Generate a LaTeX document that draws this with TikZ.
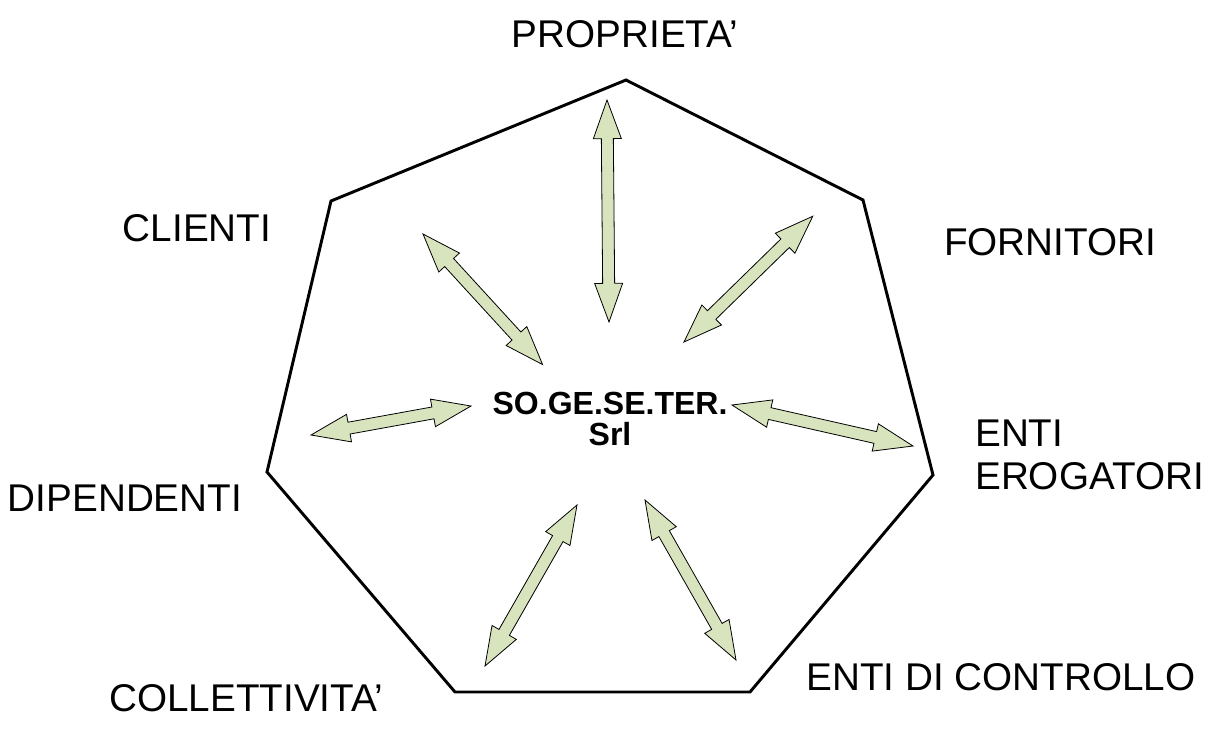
\documentclass[tikz,border=0pt]{standalone}
\usepackage{fontspec}
\setmainfont{Liberation Sans}
\usetikzlibrary{calc}
\definecolor{arrgreen}{HTML}{D7E4BD}
\tikzset{
  lbl/.style={inner sep=0pt, font=\fontsize{29}{32}\selectfont},
  centre/.style={inner sep=0pt, align=center, font=\bfseries\fontsize{24}{23}\selectfont},
  hepta/.style={draw=black, line width=2.2pt, line join=miter},
  blockarrow/.style={fill=arrgreen, draw=black, line width=0.6pt, line join=miter}
}
\newcommand\dblarrow[2]{%
  \path[blockarrow] let \p1=(#1), \p2=(#2),
      \n1={atan2(\y2-\y1,\x2-\x1)}, \n2={veclen(\x2-\x1,\y2-\y1)} in
    [shift={(\p1)}, rotate=\n1]
    (0pt,0pt) -- (29pt,10.5pt) -- (29pt,4.5pt) -- ({\n2*1pt-29pt},4.5pt)
    -- ({\n2*1pt-29pt},10.5pt) -- ({\n2*1pt},0pt) -- ({\n2*1pt-29pt},-10.5pt)
    -- ({\n2*1pt-29pt},-4.5pt) -- (29pt,-4.5pt) -- (29pt,-10.5pt) -- cycle;}
\begin{document}
\begin{tikzpicture}[x=0.75pt, y=-0.75pt]
\useasboundingbox (0,0) rectangle (1214,736);
% heptagon
\coordinate (v1) at (626,80);
\coordinate (v2) at (863,200);
\coordinate (v3) at (933,475);
\coordinate (v4) at (750,692);
\coordinate (v5) at (455,692);
\coordinate (v6) at (267,472);
\coordinate (v7) at (331,201);
\draw[hepta] (v1) -- (v2) -- (v3) -- (v4) -- (v5) -- (v6) -- (v7) -- cycle;
% centre
\node[centre] (c) at (610,419) {SO.GE.SE.TER.\\Srl};
% labels
\node[lbl] (prop) at (625,34) {PROPRIETA’};
\node[lbl] (cli) at (197,228) {CLIENTI};
\node[lbl] (forn) at (1050,242) {FORNITORI};
\node[lbl, anchor=west, align=left] (erog) at (975,455) {ENTI\\EROGATORI};
\node[lbl] (dip) at (125,498) {DIPENDENTI};
\node[lbl] (coll) at (246,698) {COLLETTIVITA’};
\node[lbl] (contr) at (1001,677) {ENTI DI CONTROLLO};
% arrow end points
\coordinate (a1) at (607,100); \coordinate (b1) at (609,322);
\coordinate (a2) at (684,342); \coordinate (b2) at (813,216);
\coordinate (a3) at (423,234); \coordinate (b3) at (543,365);
\coordinate (a4) at (311,435); \coordinate (b4) at (471,406);
\coordinate (a5) at (732,405); \coordinate (b5) at (913,446);
\coordinate (a6) at (577,505); \coordinate (b6) at (485,666);
\coordinate (a7) at (645,500); \coordinate (b7) at (736,660);
\dblarrow{a1}{b1}
\dblarrow{a2}{b2}
\dblarrow{a3}{b3}
\dblarrow{a4}{b4}
\dblarrow{a5}{b5}
\dblarrow{a6}{b6}
\dblarrow{a7}{b7}
\end{tikzpicture}
\end{document}
